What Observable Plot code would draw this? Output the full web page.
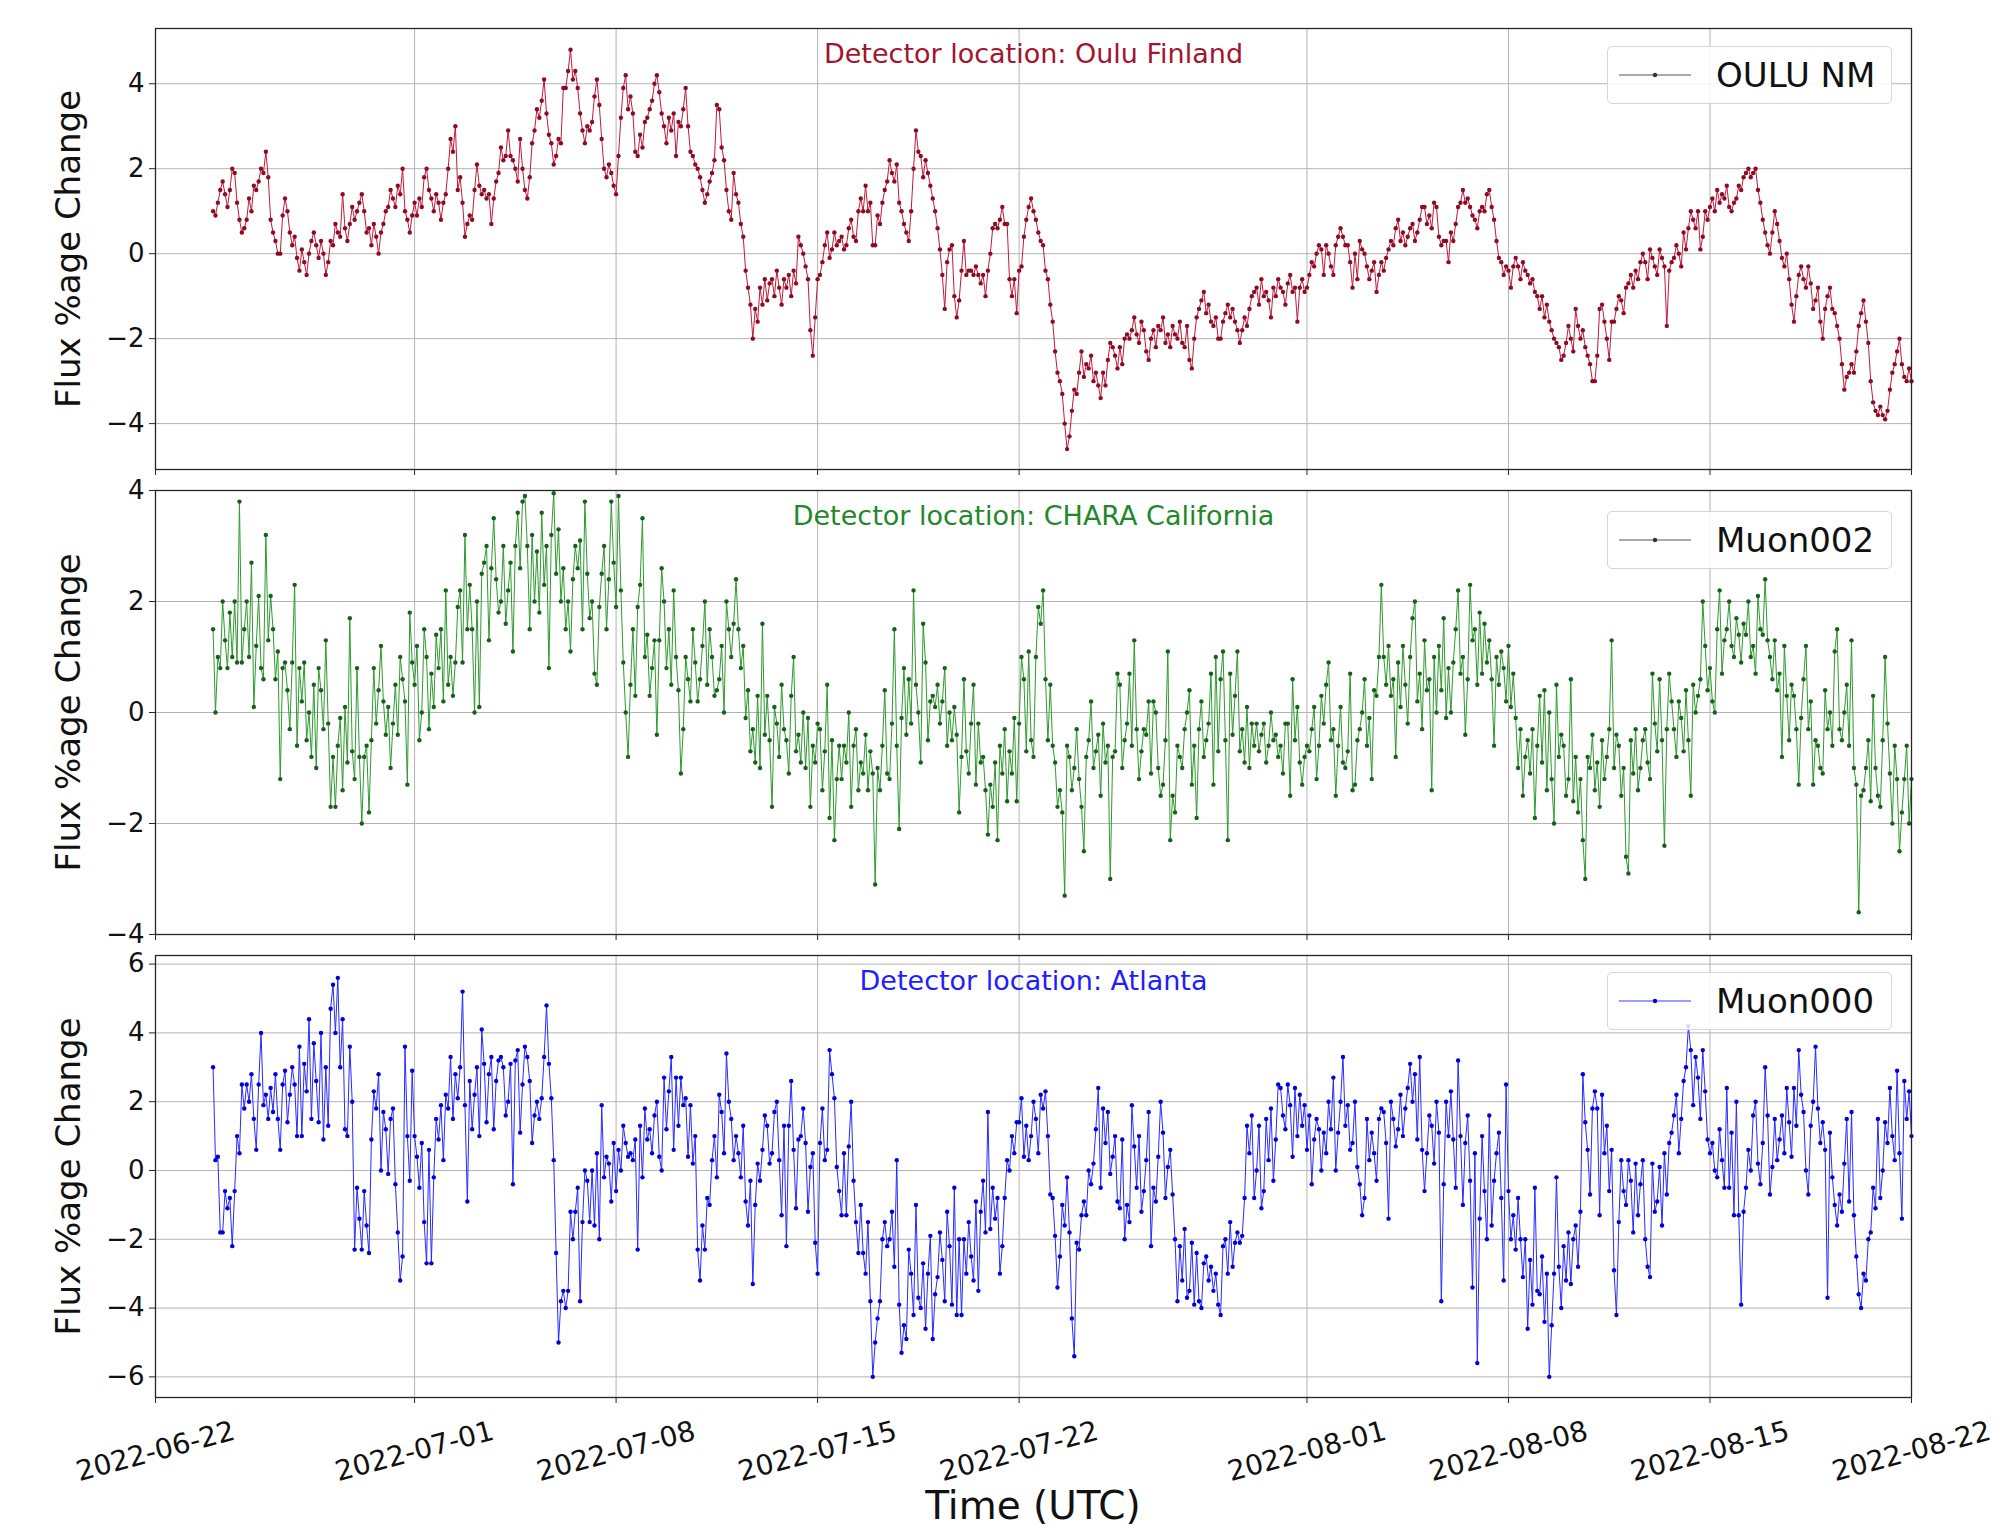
<!DOCTYPE html>
<html>
<head>
<meta charset="utf-8">
<script src="https://cdn.jsdelivr.net/npm/d3@7"></script>
<script src="https://cdn.jsdelivr.net/npm/@observablehq/plot@0.6"></script>
<style>
  html, body { margin: 0; padding: 0; background: #fff; }
  #wrap { position: relative; width: 1998px; height: 1527px; background: #fff; font-family: "DejaVu Sans", sans-serif; overflow: hidden; }
  #wrap > svg { position: absolute; left: 0; }
  .legend { position: absolute; box-sizing: border-box; border: 1px solid #d6d6d6; border-radius: 5px; background: rgba(255,255,255,0.85); }
  .legend svg { position: absolute; left: 10px; top: 0; }
  .legend span { position: absolute; left: 108px; top: 50%; transform: translateY(-50%); font-size: 34px; color: #111; white-space: nowrap; line-height: 1; }
  #xlabel { position: absolute; left: 0; width: 2066px; top: 1486px; text-align: center; font-size: 39px; color: #111; line-height: 1; }
</style>
</head>
<body>
<div id="wrap"></div>
<script>
// ---------- data (2-hourly from 2022-06-24 00:00 UTC, one row per day) ----------
const seriesStart = "2022-06-24T00:00:00Z";
const stepHours = 2;

const xTickLabels = ["2022-06-22","2022-07-01","2022-07-08","2022-07-15","2022-07-22","2022-08-01","2022-08-08","2022-08-15","2022-08-22"];
const yTicksTop = [-4, -2, 0, 2, 4];
const yTicksMid = [-4, -2, 0, 2, 4];
const yTicksBottom = [-6, -4, -2, 0, 2, 4, 6];

const titles = ["Detector location: Oulu Finland", "Detector location: CHARA California", "Detector location: Atlanta"];
const seriesNames = ["OULU NM", "Muon002", "Muon000"];

const ouluValues = [
  1.0, 0.9, 1.2, 1.5, 1.7, 1.4, 1.1, 1.5, 2.0, 1.9, 1.2, 0.8,
  0.5, 0.6, 0.8, 1.3, 1.0, 1.6, 1.5, 1.7, 2.0, 1.9, 2.4, 1.8,
  0.8, 0.5, 0.3, 0.0, 0.0, 0.9, 1.3, 1.0, 0.5, 0.2, 0.4, -0.1,
  -0.4, 0.1, -0.2, -0.5, 0.0, 0.3, 0.5, 0.2, -0.1, 0.3, 0.0, -0.5,
  -0.2, 0.3, 0.2, 0.7, 0.5, 0.4, 1.4, 0.6, 0.3, 0.7, 1.1, 0.8,
  1.0, 1.2, 1.4, 1.0, 0.5, 0.6, 0.2, 0.7, 0.4, 0.0, 0.5, 0.7,
  1.0, 1.1, 1.5, 1.3, 1.1, 1.6, 1.4, 2.0, 1.0, 0.8, 0.5, 0.9,
  1.2, 0.9, 1.3, 1.1, 1.8, 2.0, 1.5, 1.3, 1.0, 1.4, 1.2, 0.8,
  1.2, 1.4, 2.0, 2.7, 2.4, 3.0, 1.5, 1.8, 1.2, 0.4, 0.7, 0.9,
  0.8, 1.5, 2.1, 1.6, 1.4, 1.5, 1.3, 1.4, 0.7, 1.3, 1.7, 1.9,
  2.5, 2.2, 2.3, 2.9, 2.3, 2.2, 2.0, 1.7, 2.7, 2.0, 1.5, 1.3,
  1.8, 2.6, 2.9, 3.4, 3.2, 3.6, 4.1, 3.3, 2.8, 2.6, 2.1, 2.3,
  2.7, 2.6, 3.9, 3.9, 4.3, 4.8, 4.1, 4.3, 3.9, 3.3, 2.9, 2.6,
  3.0, 2.9, 3.1, 3.7, 4.1, 3.5, 2.7, 2.0, 1.8, 2.1, 1.9, 1.6,
  1.4, 2.3, 3.2, 3.9, 4.2, 3.4, 3.7, 3.3, 2.4, 2.3, 2.8, 2.5,
  3.1, 3.2, 3.4, 3.6, 4.0, 4.2, 3.8, 3.3, 3.0, 2.6, 3.2, 2.9,
  3.3, 2.3, 3.1, 3.0, 3.4, 3.9, 3.0, 2.4, 2.3, 2.1, 2.0, 1.8,
  1.5, 1.2, 1.4, 1.7, 1.9, 2.2, 3.5, 3.4, 2.5, 2.2, 1.5, 1.0,
  0.8, 1.9, 1.4, 1.2, 0.7, 0.4, -0.4, -0.8, -1.2, -2.0, -1.3, -1.6,
  -0.8, -1.2, -0.6, -1.1, -0.7, -0.6, -1.0, -0.4, -0.8, -1.2, -0.6, -0.8,
  -0.5, -1.0, -0.4, -0.7, 0.4, 0.2, 0.0, -0.3, -0.6, -1.8, -2.4, -1.5,
  -0.6, -0.5, -0.2, 0.2, 0.5, -0.1, 0.1, 0.5, 0.2, 0.3, 0.4, 0.1,
  0.2, 0.6, 0.8, 0.4, 0.3, 1.0, 1.3, 1.0, 1.6, 1.0, 1.2, 0.2,
  0.2, 0.9, 0.7, 1.2, 1.5, 1.7, 2.2, 1.9, 1.7, 2.1, 1.2, 1.0,
  0.7, 0.5, 0.3, 1.0, 2.0, 2.9, 2.4, 2.3, 1.8, 2.2, 1.9, 1.6,
  1.3, 1.0, 0.6, 0.1, -0.5, -1.3, -0.2, 0.1, 0.2, -1.0, -1.5, -1.1,
  -0.4, 0.3, -0.5, -0.4, -0.4, -0.5, -0.3, -0.5, -0.7, -0.5, -1.0, -0.4,
  0.0, 0.6, 0.7, 0.6, 0.8, 1.1, 0.7, 0.7, -0.6, -1.0, -0.6, -1.4,
  -0.4, -0.3, 0.4, 0.8, 1.1, 1.3, 1.0, 0.8, 0.5, 0.3, 0.2, -0.4,
  -0.6, -1.2, -1.6, -2.3, -2.8, -3.0, -3.3, -4.0, -4.6, -4.3, -3.7, -3.2,
  -3.3, -2.8, -2.3, -2.9, -2.6, -2.7, -2.4, -3.0, -2.8, -3.1, -3.4, -2.8,
  -3.1, -2.5, -2.1, -2.2, -2.4, -2.7, -2.2, -2.6, -2.0, -1.9, -2.0, -1.8,
  -1.5, -1.9, -2.1, -1.6, -1.8, -2.3, -2.5, -2.0, -1.8, -2.2, -1.7, -1.8,
  -1.5, -2.1, -1.9, -2.2, -1.7, -1.9, -2.0, -1.6, -2.1, -2.2, -1.7, -2.5,
  -2.7, -2.0, -1.5, -1.3, -1.1, -0.9, -1.4, -1.2, -1.6, -1.7, -1.5, -2.0,
  -2.0, -1.6, -1.4, -1.2, -1.5, -1.3, -1.6, -1.8, -2.1, -1.8, -1.5, -1.7,
  -1.3, -1.0, -0.9, -0.8, -1.2, -0.6, -1.0, -0.9, -1.1, -1.5, -0.8, -1.0,
  -0.6, -0.8, -0.9, -1.2, -0.7, -0.5, -0.9, -0.8, -1.6, -0.8, -0.6, -0.9,
  -0.8, -0.5, -0.2, -0.3, 0.0, 0.2, 0.1, -0.5, 0.2, 0.0, -0.3, -0.5,
  0.2, 0.4, 0.6, 0.4, 0.2, 0.2, -0.2, -0.8, 0.0, -0.6, 0.3, 0.1,
  0.0, -0.3, -0.6, -0.4, -0.2, -0.9, -0.5, -0.2, -0.4, -0.1, 0.1, 0.3,
  0.2, 0.6, 0.8, 0.3, 0.5, 0.2, 0.4, 0.6, 0.7, 0.3, 0.5, 0.8,
  1.1, 1.1, 0.7, 0.9, 0.6, 1.2, 1.1, 0.4, 0.2, 0.3, 0.3, -0.2,
  0.5, 0.3, 0.7, 1.1, 1.2, 1.5, 1.2, 1.3, 1.1, 0.9, 0.8, 0.6,
  1.0, 1.1, 1.0, 1.4, 1.5, 1.1, 0.8, 0.3, -0.1, -0.2, -0.5, -0.3,
  -0.4, -0.8, -0.3, -0.1, -0.3, -0.6, -0.2, -0.4, -0.5, -0.7, -0.6, -0.9,
  -1.0, -1.3, -1.0, -1.5, -1.2, -1.6, -1.8, -2.0, -2.1, -2.2, -2.5, -2.4,
  -2.1, -1.7, -2.0, -2.3, -1.3, -1.7, -2.0, -1.8, -2.2, -2.4, -2.6, -3.0,
  -3.0, -2.4, -1.3, -1.2, -1.6, -2.0, -2.5, -1.6, -1.6, -1.3, -1.0, -1.1,
  -1.4, -0.8, -0.7, -0.5, -0.8, -0.4, -0.6, -0.2, 0.0, -0.2, -0.6, 0.1,
  -0.1, -0.3, -0.5, 0.1, -0.1, -0.3, -1.7, -0.4, -0.2, -0.1, 0.2, 0.0,
  -0.3, 0.5, 0.1, 0.6, 1.0, 0.8, 0.6, 1.0, 0.1, 0.4, 1.0, 0.8,
  1.1, 1.3, 1.0, 1.5, 1.2, 1.4, 1.3, 1.6, 1.1, 1.0, 1.2, 1.3,
  1.6, 1.5, 1.8, 1.9, 2.0, 1.8, 1.9, 2.0, 1.5, 1.2, 0.8, 0.5,
  0.2, 0.0, 0.5, 1.0, 0.7, 0.3, -0.1, -0.3, 0.0, -0.6, -1.2, -1.6,
  -1.0, -0.5, -0.3, -0.6, -0.8, -0.3, -0.7, -1.3, -1.1, -0.8, -1.6, -2.0,
  -1.3, -1.0, -0.8, -1.3, -1.4, -1.7, -2.0, -2.6, -3.2, -2.9, -2.8, -2.6,
  -2.8, -2.3, -1.7, -1.4, -1.1, -1.6, -2.1, -3.0, -3.5, -3.7, -3.8, -3.6,
  -3.8, -3.9, -3.7, -3.2, -2.8, -2.6, -2.3, -2.0, -2.6, -2.9, -3.0, -2.7,
  -3.0
];

const charaValues = [
  1.5, 0.0, 1.0, 0.8, 2.0, 1.3, 0.8, 1.8, 1.0, 2.0, 0.9, 3.8,
  0.9, 1.5, 2.0, 1.0, 2.7, 0.1, 1.2, 2.1, 0.8, 0.6, 3.2, 1.3,
  2.1, 1.5, 0.6, 1.1, -1.2, 0.8, 0.9, 0.4, -0.3, 0.9, 2.3, -0.6,
  0.8, 0.2, 0.9, -0.5, 0.0, -0.8, 0.5, -1.0, 0.8, 0.4, -0.3, 1.3,
  -0.2, -1.7, -0.8, -1.7, -0.6, -0.1, -1.4, 0.1, -0.9, 1.7, -0.7, -1.2,
  0.8, -0.8, -2.0, -0.8, -0.6, -1.8, -0.5, 0.8, -0.2, 0.4, 1.2, 0.2,
  -0.4, 0.1, -1.0, -0.2, 0.5, -0.4, 1.0, 0.6, 0.2, -1.3, 1.8, 0.9,
  0.5, 1.2, -0.5, 0.0, 1.5, 1.0, -0.3, 0.7, 0.1, 1.4, 0.8, 1.5,
  0.2, 2.2, 0.5, 1.0, 0.3, 0.9, 1.9, 2.2, 0.9, 3.2, 1.5, 2.3,
  1.5, 0.0, 2.0, 0.1, 2.5, 2.7, 3.0, 1.3, 2.6, 3.5, 2.4, 1.8,
  2.0, 3.0, 1.6, 2.2, 2.7, 1.1, 3.0, 3.6, 2.6, 3.8, 3.9, 3.0,
  1.5, 3.2, 2.0, 2.9, 1.8, 3.6, 2.3, 3.0, 0.8, 3.2, 3.95, 2.5,
  3.3, 2.0, 2.6, 1.5, 2.0, 1.1, 2.4, 3.0, 2.6, 3.1, 1.5, 3.8,
  2.5, 1.7, 2.0, 0.7, 0.5, 1.9, 2.5, 3.0, 1.5, 2.4, 3.8, 2.7,
  1.9, 3.9, 2.2, 0.9, 0.0, -0.8, 0.5, 1.5, 0.3, 1.9, 2.3, 3.5,
  1.0, 1.4, 0.3, 0.8, 1.3, -0.4, 1.3, 2.6, 2.0, 0.8, 1.5, 0.5,
  2.2, 1.0, 0.4, -1.1, -0.3, 1.0, 0.6, 0.2, 1.5, 0.9, 0.2, 0.6,
  1.2, 2.0, 0.5, 1.5, 1.0, 0.3, 0.4, 0.6, 1.2, 0.0, 2.0, 1.5,
  1.0, 1.6, 2.4, 1.5, 0.8, 1.2, -0.1, 0.4, -0.7, -0.3, -0.9, 0.3,
  -1.0, 1.6, -0.4, 0.3, -0.5, -1.7, 0.1, -0.2, -0.8, 0.5, -0.3, -0.5,
  -1.1, 0.3, 1.0, -0.7, -0.4, -0.9, 0.0, -1.0, -0.1, -1.7, -0.6, -0.9,
  -0.2, -0.3, -1.4, -0.7, 0.5, -1.9, -0.5, -2.3, -1.2, -0.6, -1.2, -0.6,
  -0.9, 0.0, -1.7, -0.6, -0.3, -1.4, -0.9, -1.1, -0.4, -1.4, -0.7, -1.1,
  -3.1, -1.0, -1.4, -0.6, 0.4, -1.1, -1.2, -0.2, 1.5, -0.6, -2.1, -0.1,
  0.8, -0.4, 0.6, -0.2, 2.2, 0.5, 0.0, -0.9, 1.6, 0.9, -0.5, 0.2,
  0.3, 0.1, 0.5, -0.2, 0.2, 0.8, -0.6, 0.0, -0.5, 0.1, -0.4, -1.8,
  -0.8, 0.6, -0.7, -1.1, -0.2, 0.5, -1.3, -0.2, -0.9, -0.8, -1.4, -2.2,
  -1.3, -1.7, -0.9, -2.3, -0.6, -1.1, -0.3, -1.6, -0.7, -1.1, -0.1, -1.6,
  -0.2, 1.0, 0.6, -0.7, 1.1, -0.5, -0.8, 1.0, 1.9, 1.6, 2.2, 0.6,
  -0.5, 0.5, -0.6, -0.9, -1.7, -1.4, -1.8, -3.3, -0.6, -0.8, -1.4, -1.0,
  -0.3, -1.2, -1.7, -2.5, -0.8, -0.5, 0.2, -1.0, -0.7, -0.4, -1.5, -0.2,
  -0.9, -0.6, -3.0, -0.8, -0.7, 0.7, 0.5, -1.0, -0.5, -0.2, 0.7, -0.6,
  1.3, -0.3, -1.2, -0.7, -0.3, -0.4, 0.2, -1.1, 0.2, 0.0, -1.0, -1.5,
  -1.3, -0.5, 1.1, -2.3, -1.5, -1.8, -0.6, -0.8, -1.0, -0.3, 0.0, 0.4,
  -1.3, -0.6, -1.9, -0.3, 0.2, -0.8, -0.5, -0.2, 0.7, -1.3, 1.0, -0.7,
  0.6, 1.1, -0.5, -2.3, 0.7, -0.4, 0.3, 1.1, -0.7, -0.3, -0.9, 0.1,
  -1.0, -0.2, -0.6, -0.2, -0.7, -0.4, -0.2, -0.9, -0.6, 0.0, -0.5, -0.4,
  -0.8, -0.6, -1.1, -0.2, -0.2, -1.5, 0.6, -0.5, 0.1, -0.9, -1.3, -0.8,
  -0.6, -0.7, -0.3, 0.1, -1.2, -0.6, 0.3, -0.2, 0.5, 0.9, -0.5, -0.3,
  -1.5, -0.6, 0.1, -0.9, -1.0, -0.7, 0.7, -1.4, -1.3, -0.5, -0.3, 0.0,
  0.6, -0.6, -0.1, -1.2, 0.4, 0.3, 1.0, 2.3, 1.0, 0.5, 1.2, 0.3,
  0.6, -0.8, 0.9, 0.1, 1.2, 0.5, -0.2, 1.0, 1.7, 2.0, 0.2, 0.7,
  -0.3, 1.3, 0.4, 0.6, -1.4, 1.0, 0.0, 1.2, 0.4, 1.7, -0.1, 0.8,
  0.0, 0.9, 1.5, 2.2, 0.7, 1.0, -0.4, 0.6, 2.3, 1.3, 1.5, 0.5,
  1.8, 0.7, 1.6, 0.9, 1.3, 0.6, -0.6, 1.0, 0.5, 1.1, 0.8, 0.2,
  1.2, 0.1, 0.7, -0.1, -1.0, -0.3, -1.5, -0.8, -0.5, -1.1, -0.3, -1.9,
  -0.6, 0.3, -0.9, 0.4, -1.4, 0.0, -1.2, -2.0, 0.5, -0.8, -0.4, -0.6,
  -1.5, -1.2, 0.6, -1.6, -0.8, -1.8, -1.2, -2.3, -3.0, -0.8, -1.0, -0.4,
  -1.4, -0.9, -1.7, -0.5, -1.2, -0.8, -0.3, 1.3, -1.0, -0.4, -0.6, -1.5,
  -1.0, -2.6, -2.9, -0.5, -1.1, -0.3, -1.4, -1.0, -0.5, -0.3, -0.9, -1.2,
  0.7, -0.2, -0.7, 0.6, -0.5, -2.4, -0.3, 0.7, 0.2, -0.3, -0.8, 0.2,
  -0.1, -0.7, 0.4, -0.5, -1.5, 0.5, 0.0, 0.3, 0.6, 2.0, 1.2, 0.4,
  0.8, 0.2, 0.0, 1.5, 2.2, 0.7, 1.3, 1.5, 2.0, 1.2, 1.0, 1.7,
  1.4, 0.9, 1.6, 1.4, 2.0, 1.0, 1.2, 0.7, 2.1, 1.5, 1.4, 2.4,
  1.3, 1.0, 0.6, 1.3, 0.4, 0.7, -0.8, 1.2, 0.3, -0.5, 0.5, 0.3,
  -0.3, -1.3, -0.1, 0.6, 1.2, -0.3, 0.2, -1.3, -0.5, -0.6, -1.0, -1.1,
  0.4, -0.3, 0.0, -0.6, 1.1, 1.5, -0.3, -0.5, 0.0, 0.5, -0.6, 1.3,
  -1.0, -1.3, -3.6, -1.5, -1.4, -1.0, -0.5, -1.6, 0.3, -1.0, -1.5, -1.7,
  -0.5, 1.0, -0.2, -1.1, -2.0, -0.6, -1.2, -2.5, -1.8, -1.2, -0.6, -2.0,
  -1.2
];

const atlantaValues = [
  3.0, 0.3, 0.4, -1.8, -1.8, -0.6, -1.1, -0.8, -2.2, -0.6, 1.0, 0.5,
  2.5, 1.8, 2.5, 2.0, 2.8, 1.5, 0.6, 2.5, 4.0, 1.9, 2.2, 1.5,
  2.4, 1.7, 2.8, 1.5, 0.6, 2.5, 2.9, 1.4, 2.2, 3.0, 2.5, 1.0,
  3.6, 1.0, 3.1, 2.3, 4.4, 1.5, 3.7, 2.6, 1.4, 4.0, 0.9, 3.0,
  1.3, 4.7, 5.4, 4.0, 5.6, 3.0, 4.4, 1.2, 1.0, 3.6, 2.0, -2.3,
  -0.5, -1.4, -2.3, -0.6, -1.6, -2.4, 0.9, 2.3, 1.8, 2.8, 0.0, 1.7,
  1.2, -0.1, 1.5, 1.8, -0.4, -1.8, -3.2, -2.5, 3.6, 1.0, -0.3, 2.9,
  1.0, 0.4, -0.5, 0.8, -1.5, -2.7, 0.6, -2.7, -0.2, 1.5, 0.9, 1.9,
  0.3, 2.2, 1.8, 3.3, 1.5, 2.8, 2.1, 3.0, 5.2, 1.9, -0.9, 2.6,
  1.2, 2.2, 3.0, 1.0, 4.1, 3.1, 1.4, 2.8, 3.3, 1.2, 2.6, 3.2,
  3.3, 3.0, 1.6, 2.0, 3.1, -0.4, 3.2, 3.5, 1.1, 2.5, 3.6, 3.3,
  2.6, 0.8, 1.6, 2.0, 1.5, 2.1, 3.3, 4.8, 3.1, 2.1, 0.3, -2.4,
  -5.0, -3.8, -3.5, -4.0, -3.5, -1.2, -2.0, -1.2, -0.5, -3.8, -1.5, 0.0,
  -0.3, -1.5, 0.0, -1.6, 0.5, -2.0, 1.9, -0.2, 0.4, 0.2, -0.9, 0.8,
  -0.6, 0.6, 0.0, 1.3, 0.8, 0.4, 0.5, 0.3, 0.9, -2.3, 1.3, -0.2,
  1.8, 0.9, 1.2, 0.5, 1.6, 2.0, 0.4, 0.0, 2.7, 1.2, 2.3, 3.3,
  0.6, 2.7, 1.3, 2.7, 1.9, 2.1, 0.4, 1.9, 0.2, 1.0, -2.3, -3.2,
  -1.6, -2.3, -0.8, -1.0, 0.3, 1.0, -0.2, 2.2, 1.7, 0.5, 3.4, 2.0,
  1.5, 0.3, 1.0, 0.5, -0.2, 1.3, -0.9, -1.6, -0.3, -3.3, -1.0, 0.2,
  -0.3, 0.6, 1.6, 1.3, 0.2, 0.5, 1.7, 2.0, 0.3, -1.3, 1.3, -2.2,
  1.3, 2.6, 0.6, -1.1, 0.9, 1.0, 1.8, 0.8, -1.2, 0.1, 0.5, -2.1,
  -3.0, 0.8, 1.8, 0.3, 0.6, 3.5, 2.8, 2.1, 0.1, -0.6, -1.3, 0.5,
  -1.3, 0.7, 2.0, -0.3, -1.5, -2.4, -1.0, -2.4, -3.0, -1.5, -3.8, -6.0,
  -5.0, -4.3, -3.8, -2.0, -1.5, -2.2, -2.0, -1.2, -2.8, 0.3, -3.9, -5.3,
  -4.5, -4.9, -2.3, -3.0, -4.2, -1.0, -3.7, -4.0, -2.7, -4.6, -3.0, -1.9,
  -4.9, -3.6, -3.1, -1.8, -2.6, -3.8, -1.2, -2.2, -3.9, -0.5, -4.2, -2.0,
  -4.2, -2.0, -3.0, -1.5, -2.5, -3.2, -0.9, -3.5, -1.2, -0.3, -1.8, 1.7,
  -1.7, -0.5, -1.4, -0.8, -3.0, -2.2, -0.8, 0.3, 0.0, 1.0, 0.5, 1.4,
  1.4, 2.1, 0.4, 1.3, 0.3, 1.0, 2.0, 1.5, 0.5, 2.2, 1.8, 2.3,
  1.0, -0.7, -0.8, -1.9, -3.4, -2.5, -1.0, -1.6, -0.2, -1.8, -4.3, -5.4,
  -2.1, -2.3, -1.3, -0.9, -1.3, 0.0, -0.4, 0.2, 1.2, 2.4, -0.5, 1.8,
  0.8, 1.7, -0.1, 0.4, 1.0, -0.9, -1.1, 0.9, -2.0, -1.0, -1.5, 1.9,
  0.7, -0.5, 1.0, -1.2, -0.6, 0.3, 1.7, -2.2, -0.5, -0.9, 0.4, 2.0,
  1.1, -0.8, 0.1, 0.6, -0.7, -2.0, -3.8, -2.2, -3.2, -1.7, -3.7, -3.5,
  -2.1, -3.9, -2.4, -3.8, -4.0, -2.7, -2.5, -3.2, -2.8, -3.5, -3.0, -3.9,
  -4.2, -2.2, -2.0, -3.0, -1.5, -2.8, -2.1, -1.8, -2.1, -1.9, -0.8, 1.3,
  0.5, 1.6, -0.8, 0.0, 1.3, -1.1, -0.6, 1.5, 0.3, 1.8, -0.3, 0.9,
  2.5, 2.4, 1.6, 1.2, 2.5, 1.9, 0.4, 2.4, 1.0, 2.2, 1.3, 1.9,
  0.6, 1.6, -0.4, 0.9, 1.5, 1.2, 0.0, 1.1, 0.5, 2.0, 1.2, 2.7,
  0.0, 1.1, 2.0, 3.3, 1.3, 1.9, 0.6, 0.8, 2.0, 0.1, -0.4, -1.3,
  -0.8, 1.5, 0.3, 1.1, 0.5, -0.3, 1.5, 1.8, 1.7, 0.8, -1.4, 2.0,
  1.5, 0.7, 1.2, 2.2, 1.0, 1.8, 2.4, 3.1, 2.0, 2.8, 0.9, 3.3,
  0.6, -0.6, 0.5, 1.6, 1.3, 0.2, 2.0, 1.1, -3.8, -0.4, 2.0, 1.0,
  2.3, 0.9, -0.5, 3.2, 1.0, -1.0, 0.8, 1.6, -0.3, -3.4, 0.5, -5.6,
  -1.4, 1.0, -0.6, -2.0, 1.6, -1.6, -0.3, 0.5, 1.1, -0.8, -3.2, 2.5,
  -0.6, -2.0, -1.3, -2.3, -0.8, -2.0, -3.1, -2.0, -4.6, -2.6, -3.9, -0.5,
  -3.5, -3.6, -2.5, -4.4, -3.0, -6.0, -4.5, -3.0, -0.2, -2.8, -4.0, -2.2,
  -3.2, -1.8, -3.3, -2.0, -1.6, -2.8, -1.2, 2.8, 1.4, 0.6, -0.7, 1.8,
  2.3, 1.8, -1.3, 2.2, 0.5, 1.3, -0.6, 0.6, -2.9, -4.2, -1.5, 0.3,
  -0.6, -1.0, 0.3, -0.3, -1.8, 0.2, -1.3, -0.4, 0.3, -2.0, -2.8, -3.1,
  0.2, -1.2, -0.9, 0.1, -1.6, 0.5, -0.7, 0.8, 1.1, 1.6, 2.2, 0.5,
  1.5, 2.6, 3.0, 4.2, 3.5, 1.9, 3.3, 2.7, 1.5, 3.5, 2.3, 0.9,
  0.5, 0.8, 0.0, -0.2, 1.2, 0.3, -0.5, 2.4, -0.5, 1.1, -1.3, 2.0,
  -1.3, -3.9, -1.2, -0.5, 0.6, 0.0, 1.6, 2.0, 0.2, -0.4, 0.8, 3.0,
  1.6, -0.7, 0.1, 1.5, 0.3, 0.9, 1.6, 0.5, 2.4, 1.4, 0.4, 2.4,
  1.3, 3.5, 2.2, 1.7, 0.0, -0.7, 1.3, 2.0, 3.6, 1.8, 0.8, 1.4,
  0.6, -3.7, 1.1, -0.2, -1.0, -1.6, -0.7, -1.2, 0.2, 1.5, -0.9, 1.7,
  -1.3, -2.5, -3.6, -4.0, -3.0, -3.2, -2.0, -1.8, -0.5, -1.1, 1.5, -0.8,
  0.0, 1.4, 0.8, 2.4, 1.0, 0.3, 2.9, 0.5, -1.4, 2.6, 1.5, 2.3,
  1.0
];

// ---------- build ----------
const t0 = new Date(seriesStart).getTime();
const toRows = vals => vals.map((v, i) => ({t: new Date(t0 + i * stepHours * 3600e3), v}));
const parseDay = d3.utcParse("%Y-%m-%d");
const xTicks = xTickLabels.map(parseDay);
const xDomain = [xTicks[0], xTicks[xTicks.length - 1]];
const fmtY = d => d < 0 ? "\u2212" + Math.abs(d) : String(d);

const W = 1998, ML = 155, MR = 87;
const panels = [
  {values: ouluValues, top: 0, height: 480, mt: 28, mb: 11, dom: [-5.08, 5.3], ticks: yTicksTop,
   line: "#c21a3a", dot: "#8e0b22", title: titles[0], titleColor: "#a3142f", name: seriesNames[0], legLine: "#555", legDot: "#333", legTop: 46},
  {values: charaValues, top: 480, height: 465, mt: 10, mb: 11, dom: [-4, 4], ticks: yTicksMid,
   line: "#2e9a2e", dot: "#17601a", title: titles[1], titleColor: "#23882a", name: seriesNames[1], legLine: "#555", legDot: "#333", legTop: 511},
  {values: atlantaValues, top: 945, height: 582, mt: 10, mb: 130, dom: [-6.6, 6.25], ticks: yTicksBottom,
   line: "#2a2aff", dot: "#0000d8", title: titles[2], titleColor: "#1e1eff", name: seriesNames[2], legLine: "#3a3aff", legDot: "#0000d8", legTop: 972}
];

const wrap = document.getElementById("wrap");

panels.forEach((p, idx) => {
  const rows = toRows(p.values);
  const last = idx === panels.length - 1;
  const marks = [
    Plot.gridX(xTicks, {stroke: "#b4b4b4", strokeOpacity: 1, strokeWidth: 1}),
    Plot.gridY(p.ticks, {stroke: "#b4b4b4", strokeOpacity: 1, strokeWidth: 1}),
    Plot.line(rows, {x: "t", y: "v", stroke: p.line, strokeWidth: 1}),
    Plot.dot(rows, {x: "t", y: "v", r: 2.2, fill: p.dot, stroke: null}),
    Plot.frame({stroke: "#262626", strokeWidth: 1.3}),
    Plot.axisY(p.ticks, {tickFormat: fmtY, fontSize: 26, tickSize: 6, tickPadding: 5, label: null, stroke: "#262626"}),
    Plot.axisX(xTicks, {tickFormat: () => "", tickSize: 6, tickPadding: 0, label: null, stroke: "#262626"}),
    Plot.text([p.title], {frameAnchor: "top", dy: 26, text: d => d, fill: p.titleColor, fontSize: 27, textAnchor: "middle", lineAnchor: "middle"}),
    Plot.text(["Flux %age Change"], {frameAnchor: "left", dx: -86, text: d => d, rotate: -90, fontSize: 34, fill: "#111", textAnchor: "middle", lineAnchor: "middle"})
  ];
  if (last) {
    marks.push(Plot.text(xTicks, {x: d => d, frameAnchor: "bottom", dy: 54, text: d => d3.utcFormat("%Y-%m-%d")(d), rotate: -15, fontSize: 28, fill: "#111", textAnchor: "middle", lineAnchor: "middle"}));
  }
  const svg = Plot.plot({
    width: W, height: p.height,
    marginLeft: ML, marginRight: MR, marginTop: p.mt, marginBottom: p.mb,
    x: {type: "utc", domain: xDomain, axis: null},
    y: {domain: p.dom, axis: null},
    style: {fontFamily: "DejaVu Sans, sans-serif", background: "transparent", color: "#111", overflow: "visible"},
    marks
  });
  svg.style.top = p.top + "px";
  wrap.appendChild(svg);

  // legend box (top-right of each panel)
  const leg = document.createElement("div");
  leg.className = "legend";
  leg.style.left = "1607px";
  leg.style.top = p.legTop + "px";
  leg.style.width = "285px";
  leg.style.height = "58px";
  leg.innerHTML = `<svg width="80" height="56"><line x1="1" x2="73" y1="28" y2="28" stroke="${p.legLine}" stroke-width="1"/><circle cx="37" cy="28" r="2.2" fill="${p.legDot}"/></svg><span>${p.name}</span>`;
  wrap.appendChild(leg);
});

const xl = document.createElement("div");
xl.id = "xlabel";
xl.textContent = "Time (UTC)";
wrap.appendChild(xl);
</script>
</body>
</html>
